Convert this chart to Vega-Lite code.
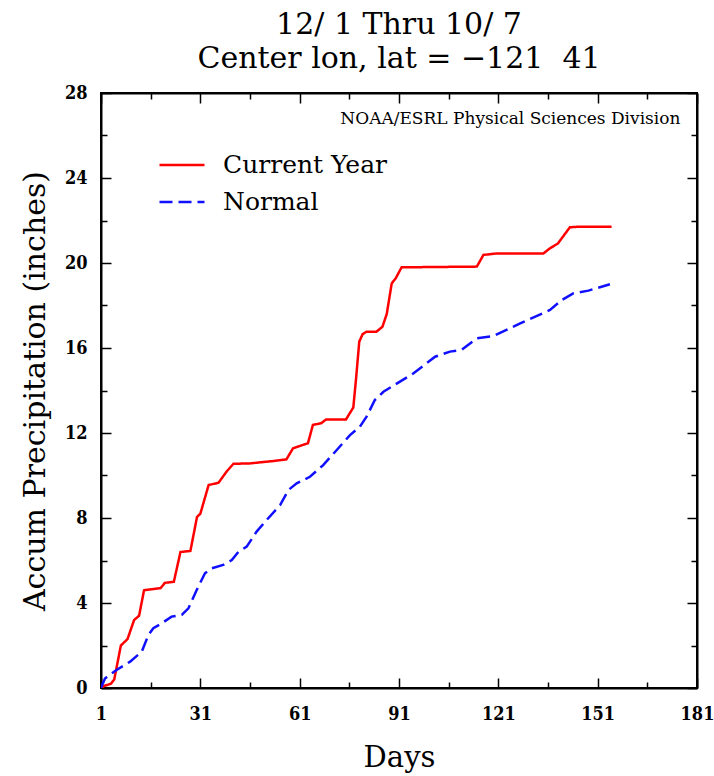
{
  "$schema": "https://vega.github.io/schema/vega-lite/v6.json",
  "width": 596,
  "height": 595,
  "autosize": {"type": "none"},
  "padding": {"left": 101, "top": 93, "right": 17, "bottom": 88},
  "background": "white",
  "config": {
    "view": {"stroke": "black", "strokeWidth": 2},
    "font": "DejaVu Serif"
  },
  "title": {
    "text": ["12/ 1 Thru 10/ 7", "Center lon, lat = \u2212121\u00a0\u00a041"],
    "font": "DejaVu Serif",
    "fontSize": 30,
    "fontWeight": "normal",
    "color": "black",
    "anchor": "middle",
    "lineHeight": 34,
    "offset": 10
  },
  "data": {
    "values": [
      {"day": 1, "value": 0, "series": "Current Year"},
      {"day": 2, "value": 0.1, "series": "Current Year"},
      {"day": 4, "value": 0.2, "series": "Current Year"},
      {"day": 5, "value": 0.4, "series": "Current Year"},
      {"day": 6, "value": 1.2, "series": "Current Year"},
      {"day": 7, "value": 2.0, "series": "Current Year"},
      {"day": 9, "value": 2.3, "series": "Current Year"},
      {"day": 11, "value": 3.2, "series": "Current Year"},
      {"day": 12.5, "value": 3.4, "series": "Current Year"},
      {"day": 14, "value": 4.6, "series": "Current Year"},
      {"day": 19, "value": 4.7, "series": "Current Year"},
      {"day": 20.3, "value": 4.95, "series": "Current Year"},
      {"day": 23, "value": 5.0, "series": "Current Year"},
      {"day": 25, "value": 6.4, "series": "Current Year"},
      {"day": 28, "value": 6.45, "series": "Current Year"},
      {"day": 30, "value": 8.05, "series": "Current Year"},
      {"day": 31, "value": 8.2, "series": "Current Year"},
      {"day": 33.5, "value": 9.55, "series": "Current Year"},
      {"day": 36.5, "value": 9.66, "series": "Current Year"},
      {"day": 39, "value": 10.2, "series": "Current Year"},
      {"day": 41, "value": 10.55, "series": "Current Year"},
      {"day": 46, "value": 10.57, "series": "Current Year"},
      {"day": 53, "value": 10.68, "series": "Current Year"},
      {"day": 57, "value": 10.76, "series": "Current Year"},
      {"day": 59, "value": 11.28, "series": "Current Year"},
      {"day": 63.5, "value": 11.52, "series": "Current Year"},
      {"day": 65, "value": 12.38, "series": "Current Year"},
      {"day": 67.5, "value": 12.46, "series": "Current Year"},
      {"day": 69, "value": 12.64, "series": "Current Year"},
      {"day": 75, "value": 12.64, "series": "Current Year"},
      {"day": 77.2, "value": 13.2, "series": "Current Year"},
      {"day": 78, "value": 14.5, "series": "Current Year"},
      {"day": 79, "value": 16.3, "series": "Current Year"},
      {"day": 80, "value": 16.65, "series": "Current Year"},
      {"day": 81.2, "value": 16.77, "series": "Current Year"},
      {"day": 84.2, "value": 16.77, "series": "Current Year"},
      {"day": 86, "value": 17.0, "series": "Current Year"},
      {"day": 87.3, "value": 17.6, "series": "Current Year"},
      {"day": 88.8, "value": 19.04, "series": "Current Year"},
      {"day": 90, "value": 19.28, "series": "Current Year"},
      {"day": 91.8, "value": 19.8, "series": "Current Year"},
      {"day": 94, "value": 19.8, "series": "Current Year"},
      {"day": 114.5, "value": 19.83, "series": "Current Year"},
      {"day": 116.5, "value": 20.38, "series": "Current Year"},
      {"day": 120.5, "value": 20.45, "series": "Current Year"},
      {"day": 134.6, "value": 20.45, "series": "Current Year"},
      {"day": 136.6, "value": 20.69, "series": "Current Year"},
      {"day": 139, "value": 20.92, "series": "Current Year"},
      {"day": 142.6, "value": 21.68, "series": "Current Year"},
      {"day": 145.7, "value": 21.71, "series": "Current Year"},
      {"day": 155.2, "value": 21.71, "series": "Current Year"},
      {"day": 1, "value": 0, "series": "Normal"},
      {"day": 2.2, "value": 0.45, "series": "Normal"},
      {"day": 5.7, "value": 0.85, "series": "Normal"},
      {"day": 9.8, "value": 1.24, "series": "Normal"},
      {"day": 13.3, "value": 1.71, "series": "Normal"},
      {"day": 15.3, "value": 2.49, "series": "Normal"},
      {"day": 16.8, "value": 2.81, "series": "Normal"},
      {"day": 19.3, "value": 3.04, "series": "Normal"},
      {"day": 22.3, "value": 3.36, "series": "Normal"},
      {"day": 25.4, "value": 3.44, "series": "Normal"},
      {"day": 27.4, "value": 3.75, "series": "Normal"},
      {"day": 29.9, "value": 4.61, "series": "Normal"},
      {"day": 32.4, "value": 5.4, "series": "Normal"},
      {"day": 34.4, "value": 5.63, "series": "Normal"},
      {"day": 37.9, "value": 5.79, "series": "Normal"},
      {"day": 40.5, "value": 6.02, "series": "Normal"},
      {"day": 42.5, "value": 6.41, "series": "Normal"},
      {"day": 45, "value": 6.65, "series": "Normal"},
      {"day": 48, "value": 7.36, "series": "Normal"},
      {"day": 51, "value": 7.9, "series": "Normal"},
      {"day": 55.1, "value": 8.61, "series": "Normal"},
      {"day": 57.6, "value": 9.32, "series": "Normal"},
      {"day": 60.1, "value": 9.63, "series": "Normal"},
      {"day": 64.1, "value": 9.94, "series": "Normal"},
      {"day": 68.1, "value": 10.49, "series": "Normal"},
      {"day": 72.2, "value": 11.2, "series": "Normal"},
      {"day": 76.2, "value": 11.9, "series": "Normal"},
      {"day": 79.2, "value": 12.3, "series": "Normal"},
      {"day": 81.2, "value": 12.77, "series": "Normal"},
      {"day": 83.7, "value": 13.55, "series": "Normal"},
      {"day": 86.3, "value": 13.94, "series": "Normal"},
      {"day": 95.3, "value": 14.8, "series": "Normal"},
      {"day": 101.9, "value": 15.59, "series": "Normal"},
      {"day": 106.4, "value": 15.83, "series": "Normal"},
      {"day": 109.9, "value": 15.91, "series": "Normal"},
      {"day": 114.5, "value": 16.46, "series": "Normal"},
      {"day": 119.5, "value": 16.56, "series": "Normal"},
      {"day": 127.6, "value": 17.16, "series": "Normal"},
      {"day": 136.6, "value": 17.79, "series": "Normal"},
      {"day": 140.2, "value": 18.26, "series": "Normal"},
      {"day": 143.6, "value": 18.57, "series": "Normal"},
      {"day": 148.2, "value": 18.7, "series": "Normal"},
      {"day": 154.7, "value": 19.0, "series": "Normal"}
    ]
  },
  "layer": [
    {
      "mark": {"type": "line", "strokeWidth": 2.5, "clip": true},
      "encoding": {
        "x": {
          "field": "day", "type": "quantitative",
          "scale": {"domain": [1, 181], "nice": false, "zero": false},
          "axis": {
            "orient": "bottom",
            "title": "Days",
            "titleFont": "DejaVu Serif", "titleFontSize": 29, "titleFontWeight": "normal", "titleColor": "black",
            "titlePadding": 16,
            "values": [1, 16, 31, 46, 61, 76, 91, 106, 121, 136, 151, 166, 181],
            "labelExpr": "(datum.value - 1) % 30 === 0 ? datum.label : ''",
            "labelFont": "DejaVu Serif Condensed, DejaVu Serif", "labelFontSize": 18, "labelFontWeight": "bold", "labelColor": "black",
            "labelPadding": 27,
            "labelFlush": false,
            "labelOverlap": false,
            "grid": false,
            "domainColor": "black", "domainWidth": 2,
            "tickColor": "black", "tickWidth": 1.5,
            "tickSize": {"condition": {"test": "(datum.value - 1) % 30 === 0", "value": -10}, "value": -6}
          }
        },
        "y": {
          "field": "value", "type": "quantitative",
          "scale": {"domain": [0, 28], "nice": false},
          "axis": {
            "orient": "left",
            "title": "Accum Precipitation (inches)",
            "titleFont": "DejaVu Serif", "titleFontSize": 30, "titleFontWeight": "normal", "titleColor": "black",
            "titlePadding": 14,
            "values": [0, 2, 4, 6, 8, 10, 12, 14, 16, 18, 20, 22, 24, 26, 28],
            "labelExpr": "datum.value % 4 === 0 ? datum.label : ''",
            "labelFont": "DejaVu Serif Condensed, DejaVu Serif", "labelFontSize": 18, "labelFontWeight": "bold", "labelColor": "black",
            "labelPadding": 24,
            "labelFlush": false,
            "labelOverlap": false,
            "grid": false,
            "domainColor": "black", "domainWidth": 2,
            "tickColor": "black", "tickWidth": 1.5,
            "tickSize": {"condition": {"test": "datum.value % 4 === 0", "value": -10}, "value": -6}
          }
        },
        "color": {
          "field": "series", "type": "nominal",
          "scale": {"domain": ["Current Year", "Normal"], "range": ["#ff0000", "#1010ff"]},
          "legend": {
            "title": null,
            "orient": "none",
            "legendX": 57,
            "legendY": 48,
            "direction": "vertical",
            "symbolType": "stroke",
            "symbolSize": 2025,
            "symbolStrokeWidth": 2.5,
            "labelFont": "DejaVu Serif", "labelFontSize": 25, "labelColor": "black",
            "labelLimit": 400,
            "labelOffset": 17,
            "rowPadding": -3,
            "padding": 0
          }
        },
        "strokeDash": {
          "field": "series", "type": "nominal",
          "scale": {"domain": ["Current Year", "Normal"], "range": [[1, 0], [13, 6]]},
          "legend": null
        }
      }
    },
    {
      "data": {"values": [{"note": "NOAA/ESRL Physical Sciences Division"}]},
      "mark": {"type": "text", "align": "right", "baseline": "middle", "font": "DejaVu Serif", "fontSize": 17, "color": "black"},
      "encoding": {
        "x": {
          "datum": 176,
          "type": "quantitative",
          "axis": {
            "orient": "top", "title": null, "labels": false, "grid": false,
            "values": [1, 16, 31, 46, 61, 76, 91, 106, 121, 136, 151, 166, 181],
            "domainColor": "black", "domainWidth": 2,
            "tickColor": "black", "tickWidth": 1.5,
            "tickSize": {"condition": {"test": "(datum.value - 1) % 30 === 0", "value": -10}, "value": -6}
          }
        },
        "y": {
          "datum": 26.8,
          "type": "quantitative",
          "axis": {
            "orient": "right", "title": null, "labels": false, "grid": false,
            "values": [0, 2, 4, 6, 8, 10, 12, 14, 16, 18, 20, 22, 24, 26, 28],
            "domainColor": "black", "domainWidth": 2,
            "tickColor": "black", "tickWidth": 1.5,
            "tickSize": {"condition": {"test": "datum.value % 4 === 0", "value": -10}, "value": -6}
          }
        },
        "text": {"field": "note", "type": "nominal"}
      }
    }
  ],
  "resolve": {"axis": {"x": "independent", "y": "independent"}}
}
